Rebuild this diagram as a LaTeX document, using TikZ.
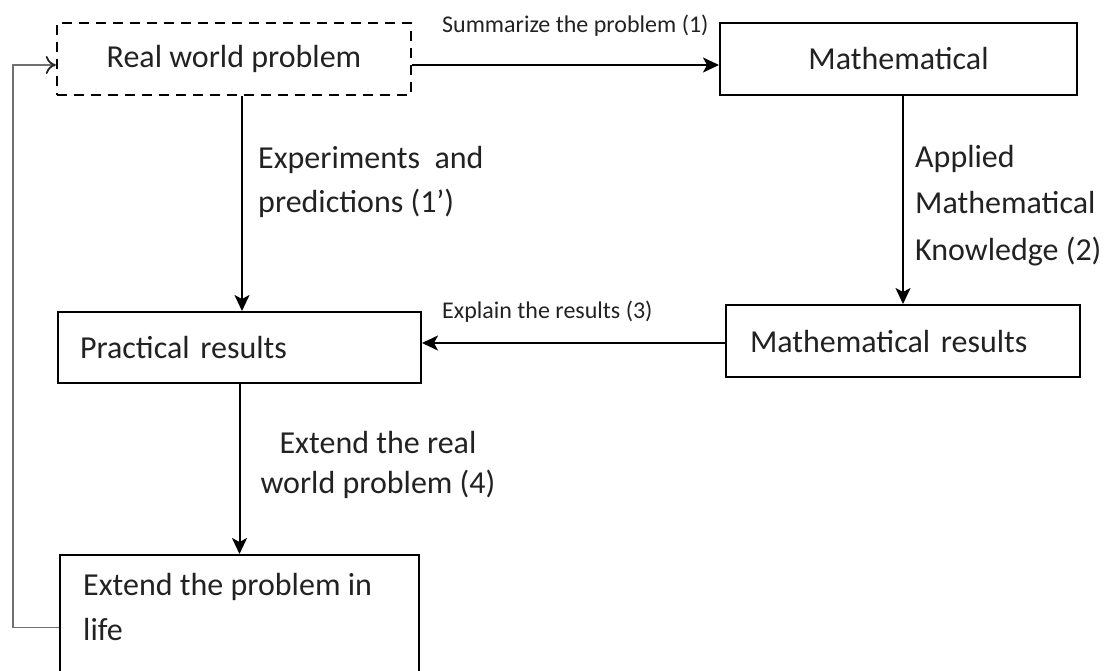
\documentclass[tikz,border=0pt]{standalone}
\usepackage{fontspec}
\setmainfont{Carlito}
\usetikzlibrary{arrows.meta,calc,fit}
\definecolor{txtc}{HTML}{222222}
\definecolor{fbc}{HTML}{707070}
\begin{document}
\begin{tikzpicture}[x=1pt,y=-1pt,
  box/.style={draw=black, line width=2pt, rectangle, inner sep=0pt},
  dbox/.style={box, line width=2.4pt, dash pattern=on 10pt off 7pt},
  big/.style={font=\fontsize{32}{46}\selectfont, text=txtc},
  small/.style={font=\fontsize{24}{29}\selectfont, text=txtc},
  lbl/.style={anchor=base west, inner sep=0pt, align=left},
  arr/.style={-{Stealth[length=16pt,width=15pt,inset=4pt]}, line width=2pt},
  fb/.style={-{To[length=10pt,width=18pt,line width=1.8pt,color=black!85]}, line width=1.6pt, draw=fbc}]
\useasboundingbox (0,0) rectangle (1113,670);
% boxes
\node[dbox, big, minimum width=354pt, minimum height=72pt] (rwp) at (234,59) {Real world problem};
\node[box, big, minimum width=357pt, minimum height=72pt] (math) at (898.5,59) {Mathematical};
\node[box, big, text width=306pt, inner xsep=24pt, align=left, minimum height=72pt] (mres) at (903,341) {Mathematical results};
\node[box, big, text width=319pt, inner xsep=22pt, align=left, minimum height=71pt] (prac) at (239.5,347.5) {Practical results};
\node[box, fit={(60,555) (419,700)}] (ext) {};
\node[big, lbl, font=\fontsize{32}{45}\selectfont] (exttxt) at (83,640) {Extend the problem in\\life};
% labels
\node[small, lbl] (l1) at (442,32) {Summarize the problem (1)};
\node[small, lbl] (l3) at (442,318) {Explain the results (3)};
\node[big, lbl, font=\fontsize{32}{44}\selectfont] (l1p) at (258,212) {Experiments\ \ and\\predictions (1’)};
\node[big, lbl, font=\fontsize{32}{46.5}\selectfont] (l2) at (915,260) {Applied\\Mathematical\\Knowledge (2)};
\node[big, anchor=base, inner sep=0pt, align=center, font=\fontsize{32}{40}\selectfont] (l4) at (378,493) {Extend the real\\world problem (4)};
% connectors
\draw[arr] ($(rwp.east)+(0,6)$) -- ($(math.west)+(0,6)$);
\draw[arr] ($(rwp.south)+(8,0)$) -- ($(prac.north)+(2.5,0)$);
\draw[arr] ($(math.south)+(4.5,0)$) -- (mres.north);
\draw[arr] ($(mres.west)+(0,2)$) -- ($(prac.east)+(0,-4.5)$);
\draw[arr] (prac.south) -- (ext.north);
\coordinate (fbx) at (13,0);
\draw[fb] (ext.west) -- (ext.west -| fbx) |- ($(rwp.west)+(0,6)$);
\end{tikzpicture}
\end{document}
